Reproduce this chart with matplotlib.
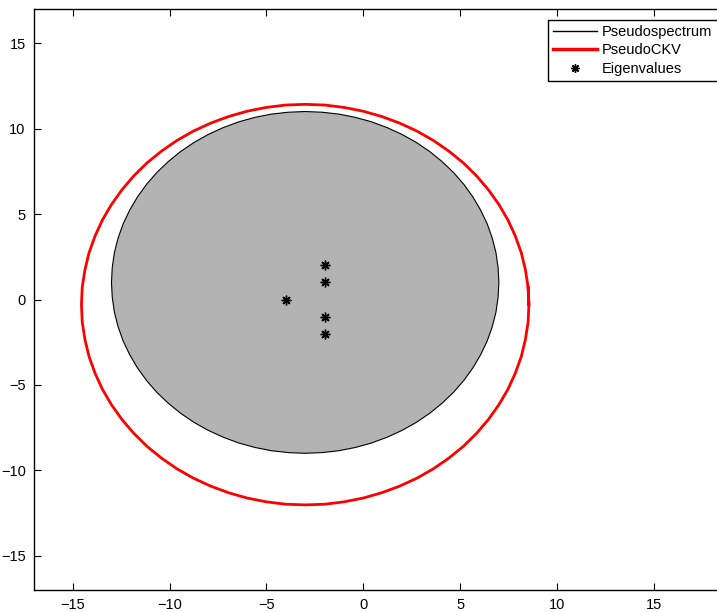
import matplotlib
matplotlib.use("Agg")
import matplotlib.pyplot as plt
from matplotlib.lines import Line2D

plt.rcParams['font.family'] = ['Liberation Sans', 'DejaVu Sans']

# Pseudospectrum boundary (gray filled region)
pseudo_x = [7.00, 6.96, 6.85, 6.66, 6.40, 6.06, 5.66, 5.19, 4.66, 4.07, 3.43, 2.74,
            2.00, 1.23, 0.42, -0.41, -1.26, -2.13, -3.00, -3.87, -4.74, -5.59,
            -6.42, -7.23, -8.00, -8.74, -9.43, -10.07, -10.66, -11.19, -11.66,
            -12.06, -12.40, -12.66, -12.85, -12.96, -13.00, -12.96, -12.85, -12.66,
            -12.40, -12.06, -11.66, -11.19, -10.66, -10.07, -9.43, -8.74, -8.00,
            -7.23, -6.42, -5.59, -4.74, -3.87, -3.00, -2.13, -1.26, -0.41, 0.42,
            1.23, 2.00, 2.74, 3.43, 4.07, 4.66, 5.19, 5.66, 6.06, 6.40, 6.66, 6.85, 6.96]
pseudo_y = [1.00, 1.87, 2.74, 3.59, 4.42, 5.23, 6.00, 6.74, 7.43, 8.07, 8.66, 9.19,
            9.66, 10.06, 10.40, 10.66, 10.85, 10.96, 11.00, 10.96, 10.85, 10.66,
            10.40, 10.06, 9.66, 9.19, 8.66, 8.07, 7.43, 6.74, 6.00,
            5.23, 4.42, 3.59, 2.74, 1.87, 1.00, 0.13, -0.74, -1.59,
            -2.42, -3.23, -4.00, -4.74, -5.43, -6.07, -6.66, -7.19, -7.66,
            -8.06, -8.40, -8.66, -8.85, -8.96, -9.00, -8.96, -8.85, -8.66, -8.40,
            -8.06, -7.66, -7.19, -6.66, -6.07, -5.43, -4.74, -4.00, -3.23, -2.42, -1.59, -0.74, 0.13]

# PseudoCKV boundary (red curve)
ckv_x = [8.55, 8.51, 8.37, 8.16, 7.85, 7.47, 7.00, 6.46, 5.85, 5.17, 4.42, 3.63,
         2.78, 1.88, 0.95, -0.01, -0.99, -1.99, -3.00, -4.01, -5.01, -5.99,
         -6.95, -7.88, -8.78, -9.63, -10.42, -11.17, -11.85, -12.46, -13.00,
         -13.47, -13.85, -14.16, -14.37, -14.51, -14.55, -14.51, -14.37, -14.16,
         -13.85, -13.47, -13.00, -12.46, -11.85, -11.17, -10.42, -9.63, -8.78,
         -7.88, -6.95, -5.99, -5.01, -4.01, -3.00, -1.99, -0.99, -0.01, 0.95,
         1.88, 2.78, 3.63, 4.42, 5.17, 5.85, 6.46, 7.00, 7.47, 7.85, 8.16, 8.37, 8.51]
ckv_y = [-0.30, 0.72, 1.74, 2.73, 3.71, 4.65, 5.56, 6.42, 7.23, 7.99, 8.68, 9.30,
         9.85, 10.32, 10.71, 11.02, 11.24, 11.38, 11.42, 11.38, 11.24, 11.02,
         10.71, 10.32, 9.85, 9.30, 8.68, 7.99, 7.23, 6.42, 5.56,
         4.65, 3.71, 2.73, 1.74, 0.72, -0.30, -1.32, -2.34, -3.33,
         -4.31, -5.25, -6.16, -7.02, -7.83, -8.59, -9.28, -9.90, -10.45,
         -10.92, -11.31, -11.62, -11.84, -11.98, -12.02, -11.98, -11.84, -11.62, -11.31,
         -10.92, -10.45, -9.90, -9.28, -8.59, -7.83, -7.02, -6.16, -5.25, -4.31, -3.33, -2.34, -1.32]

# Eigenvalues
eig_re = [-4, -2, -2, -2, -2]
eig_im = [0, 2, 1, -1, -2]

xticks = [-15, -10, -5, 0, 5, 10, 15]
yticks = [-15, -10, -5, 0, 5, 10, 15]

fig = plt.figure(figsize=(7.17, 6.12), dpi=100)
ax = fig.add_axes([34/717, 22/612, 697.3/717, 581/612])

ax.fill(pseudo_x, pseudo_y, facecolor=(0.7, 0.7, 0.7), edgecolor='black', linewidth=0.8, zorder=2)
ax.plot(ckv_x + ckv_x[:2], ckv_y + ckv_y[:2], color='red', linewidth=2.0, zorder=3,
        solid_joinstyle='round')
ax.plot(eig_re, eig_im, linestyle='none', marker=(8, 2, 0), markersize=7,
        markeredgewidth=1.0, color='black', zorder=4)

ax.set_xlim(-17, 19)
ax.set_ylim(-17, 17)
ax.set_xticks(xticks)
ax.set_yticks(yticks)
ax.set_xticklabels([f"\u2212{abs(v)}" if v < 0 else str(v) for v in xticks])
ax.set_yticklabels([f"\u2212{abs(v)}" if v < 0 else str(v) for v in yticks])
ax.tick_params(direction='in', length=5, width=0.8, top=True, right=True,
               labelsize=10.5, pad=6, colors='black')
for sp in ax.spines.values():
    sp.set_linewidth(1.0)

handles = [Line2D([], [], color='black', linewidth=1.0),
           Line2D([], [], color='red', linewidth=2.5),
           Line2D([], [], linestyle='none', marker=(8, 2, 0), markersize=6,
                  markeredgewidth=1.0, color='black')]
labels = ['Pseudospectrum', 'PseudoCKV', 'Eigenvalues']
leg = fig.legend(handles, labels, loc='upper left',
                 bbox_to_anchor=(548/717, 1 - 20/612, 180/717, 0),
                 mode='expand',
                 bbox_transform=fig.transFigure, fontsize=10.5, frameon=True, fancybox=False,
                 shadow=False, handlelength=3.0, handletextpad=0.35, labelspacing=0.3,
                 borderpad=0.35, borderaxespad=0.0)
leg.get_frame().set_edgecolor('black')
leg.get_frame().set_linewidth(1.0)
leg.get_frame().set_alpha(1.0)

fig.savefig("out.png", dpi=100)
